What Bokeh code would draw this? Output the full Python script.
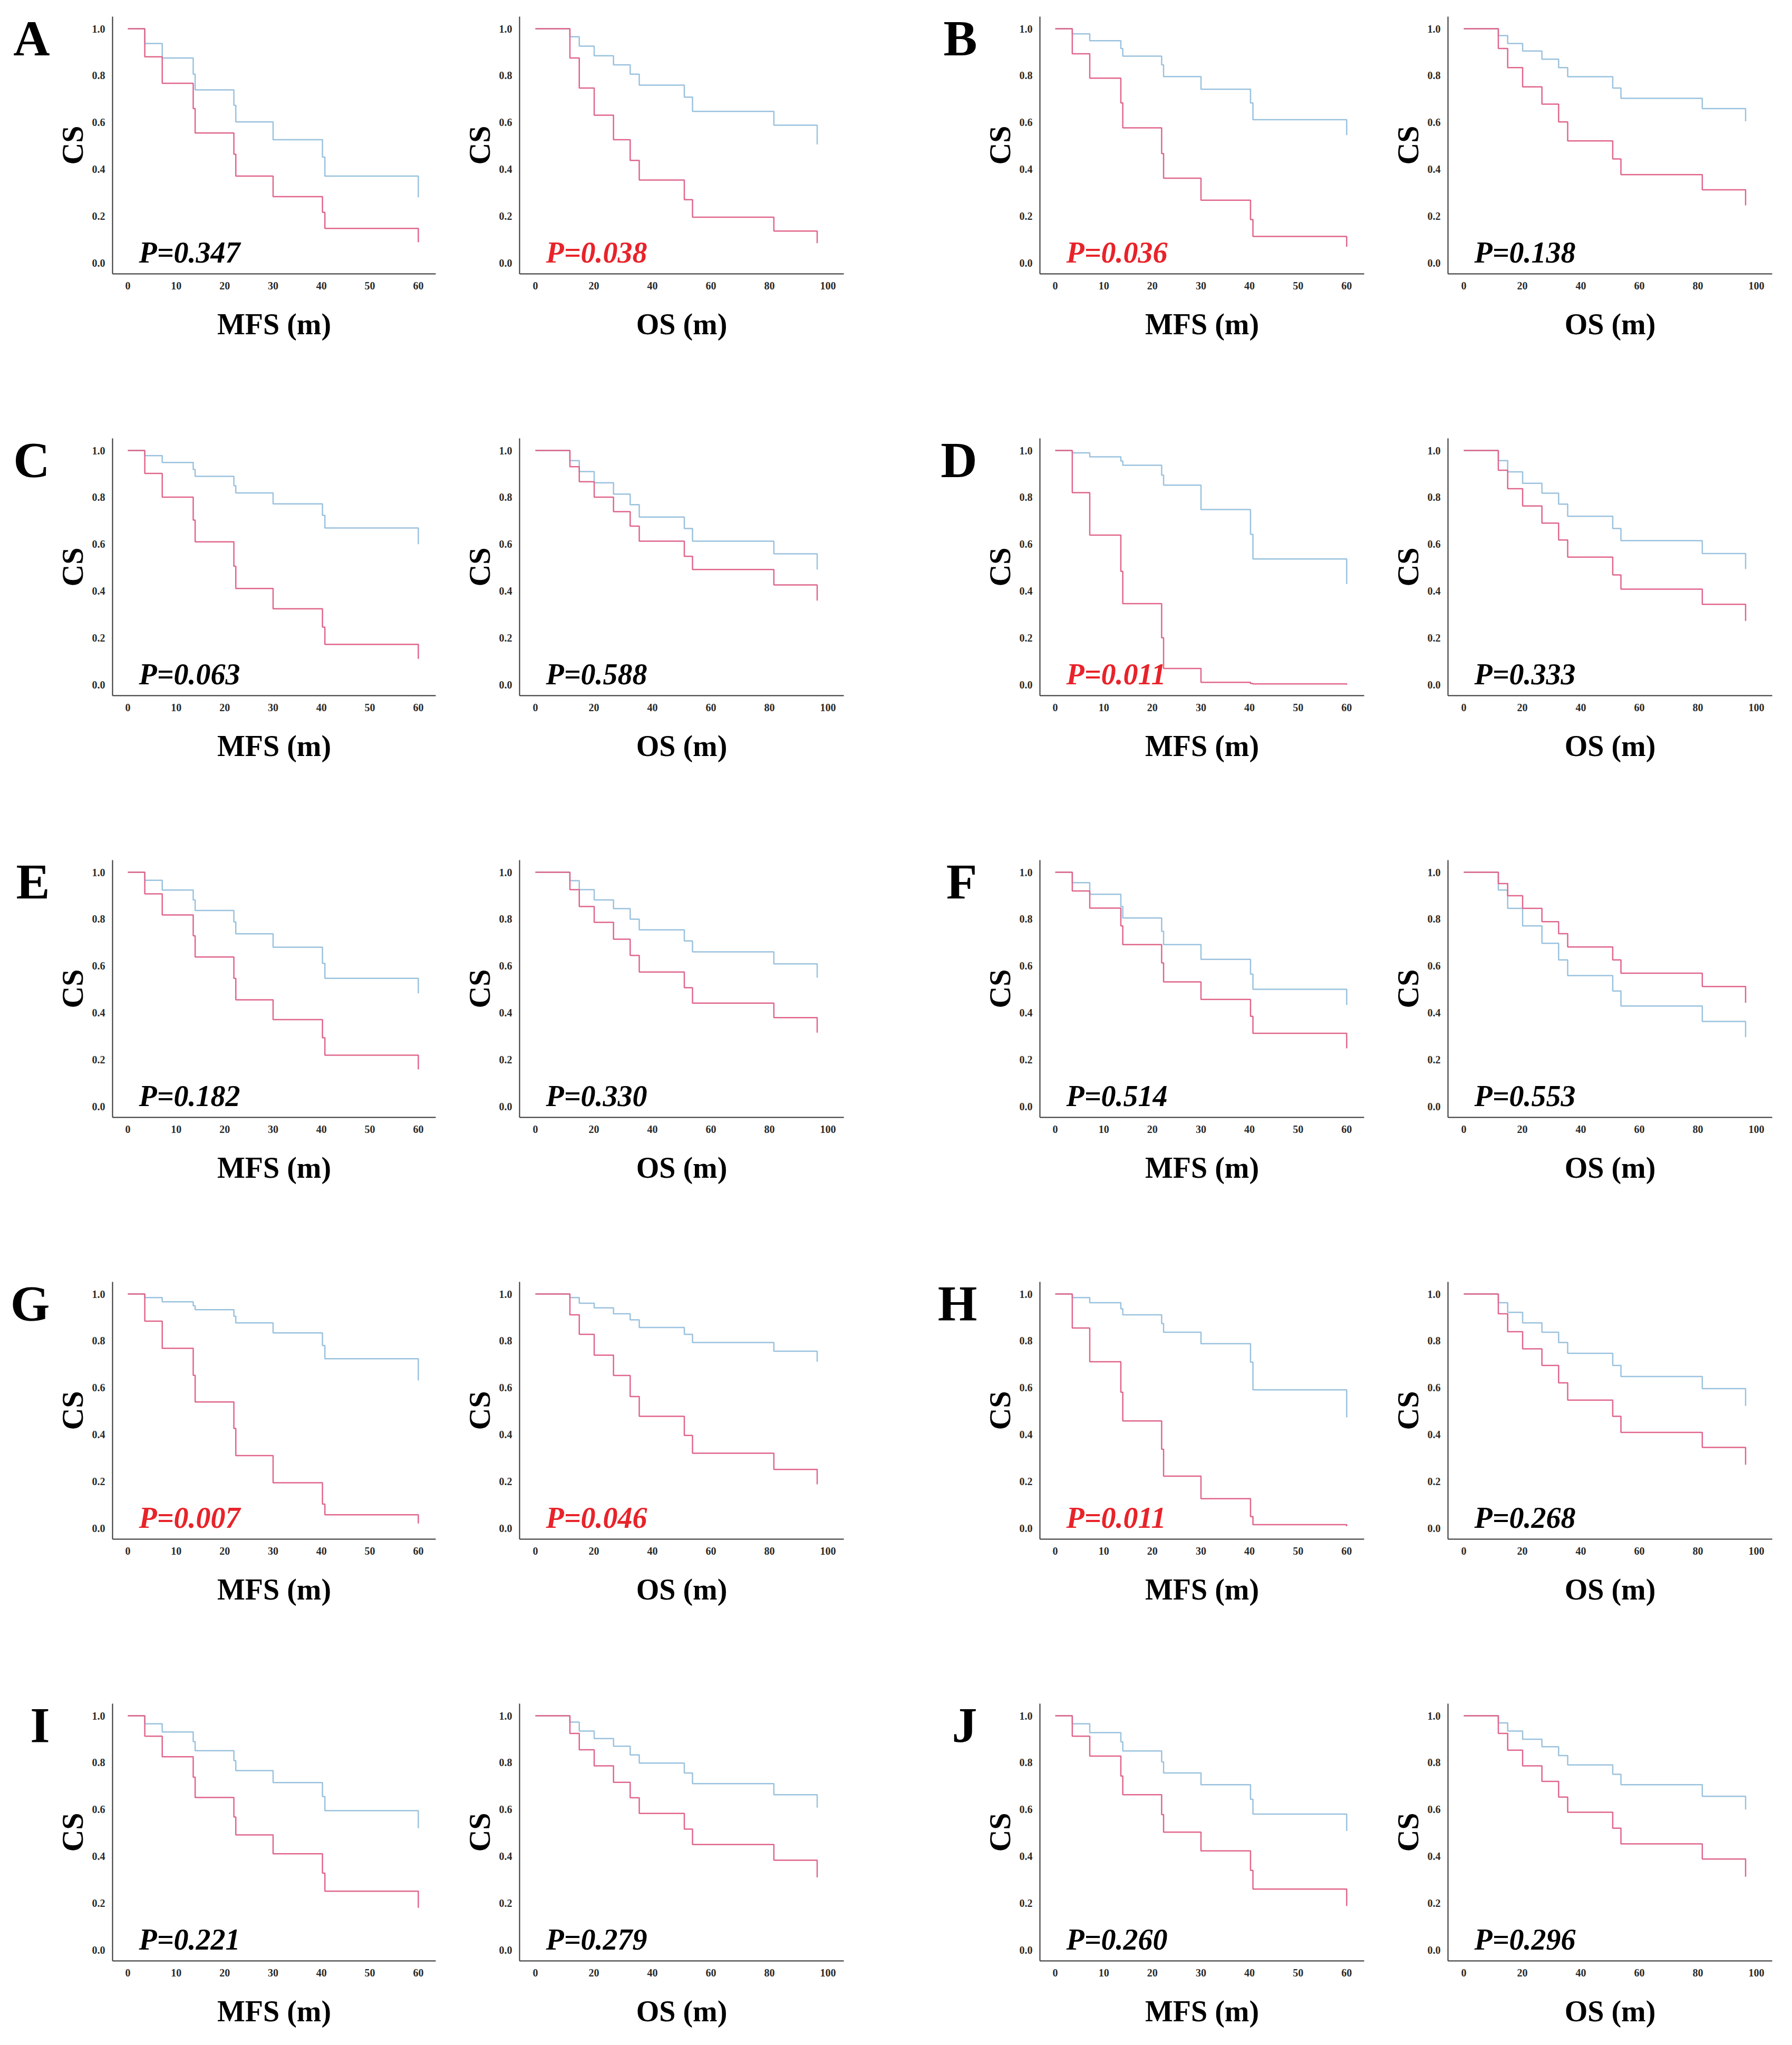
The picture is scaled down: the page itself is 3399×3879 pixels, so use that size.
from bokeh.plotting import figure
from bokeh.layouts import column, row
from bokeh.models import (Label, FixedTicker, NumeralTickFormatter, Range1d,
                          LinearAxis, CustomJSTickFormatter)
from bokeh.embed import file_html
from bokeh.resources import INLINE

# ---------------- data ----------------
LETTERS = ["A", "B", "C", "D", "E", "F", "G", "H", "I", "J"]
P_MFS = ["0.347", "0.036", "0.063", "0.011", "0.182", "0.514", "0.007", "0.011", "0.221", "0.260"]
P_OS = ["0.038", "0.138", "0.588", "0.333", "0.330", "0.553", "0.046", "0.268", "0.279", "0.296"]

MFS_T = [0, 3.5, 7.1, 13.5, 13.9, 21.9, 22.3, 30.0, 40.2, 40.7, 60.0]
OS_T = [0, 11.8, 15.0, 20.1, 26.7, 32.4, 35.5, 50.9, 53.7, 81.5, 96.3]

MFS_TICKS = [0, 10, 20, 30, 40, 50, 60]
OS_TICKS = [0, 20, 40, 60, 80, 100]
CS_TICKS = [0.0, 0.2, 0.4, 0.6, 0.8, 1.0]

A_MFS_BLUE = [1.0, 0.937, 0.875, 0.806, 0.739, 0.673, 0.602, 0.526, 0.452, 0.371, 0.280]
A_MFS_RED = [1.0, 0.880, 0.767, 0.659, 0.555, 0.464, 0.371, 0.283, 0.216, 0.147, 0.088]
B_MFS_BLUE = [1.0, 0.978, 0.949, 0.916, 0.883, 0.846, 0.796, 0.742, 0.683, 0.612, 0.546]
B_MFS_RED = [1.0, 0.893, 0.789, 0.683, 0.577, 0.467, 0.362, 0.268, 0.185, 0.113, 0.069]
C_MFS_BLUE = [1.0, 0.978, 0.949, 0.919, 0.890, 0.850, 0.819, 0.772, 0.723, 0.669, 0.600]
C_MFS_RED = [1.0, 0.902, 0.801, 0.703, 0.610, 0.506, 0.411, 0.324, 0.246, 0.172, 0.110]
D_MFS_BLUE = [1.0, 0.990, 0.973, 0.955, 0.937, 0.895, 0.852, 0.748, 0.642, 0.537, 0.430]
D_MFS_RED = [1.0, 0.820, 0.639, 0.484, 0.346, 0.200, 0.069, 0.010, 0.005, 0.003, 0.000]
E_MFS_BLUE = [1.0, 0.966, 0.924, 0.882, 0.837, 0.788, 0.737, 0.680, 0.611, 0.547, 0.483]
E_MFS_RED = [1.0, 0.908, 0.818, 0.729, 0.638, 0.547, 0.455, 0.371, 0.293, 0.219, 0.158]
F_MFS_BLUE = [1.0, 0.956, 0.906, 0.854, 0.805, 0.748, 0.691, 0.628, 0.565, 0.500, 0.433]
F_MFS_RED = [1.0, 0.920, 0.847, 0.771, 0.691, 0.613, 0.532, 0.457, 0.385, 0.312, 0.248]
G_MFS_BLUE = [1.0, 0.985, 0.967, 0.950, 0.933, 0.905, 0.877, 0.834, 0.780, 0.724, 0.631]
G_MFS_RED = [1.0, 0.884, 0.768, 0.653, 0.539, 0.426, 0.310, 0.194, 0.103, 0.057, 0.020]
H_MFS_BLUE = [1.0, 0.985, 0.963, 0.937, 0.911, 0.874, 0.837, 0.788, 0.709, 0.591, 0.473]
H_MFS_RED = [1.0, 0.855, 0.711, 0.581, 0.458, 0.337, 0.222, 0.126, 0.049, 0.015, 0.008]
I_MFS_BLUE = [1.0, 0.966, 0.931, 0.890, 0.851, 0.808, 0.766, 0.715, 0.655, 0.595, 0.520]
I_MFS_RED = [1.0, 0.913, 0.825, 0.738, 0.651, 0.568, 0.491, 0.411, 0.328, 0.251, 0.180]
J_MFS_BLUE = [1.0, 0.966, 0.928, 0.889, 0.850, 0.803, 0.756, 0.706, 0.643, 0.580, 0.508]
J_MFS_RED = [1.0, 0.913, 0.828, 0.743, 0.663, 0.578, 0.503, 0.423, 0.340, 0.260, 0.188]

A_OS_BLUE = [1.0, 0.966, 0.926, 0.885, 0.846, 0.806, 0.759, 0.708, 0.647, 0.588, 0.506]
A_OS_RED = [1.0, 0.875, 0.747, 0.631, 0.526, 0.438, 0.354, 0.270, 0.195, 0.136, 0.084]
B_OS_BLUE = [1.0, 0.971, 0.937, 0.905, 0.870, 0.834, 0.795, 0.747, 0.703, 0.659, 0.605]
B_OS_RED = [1.0, 0.916, 0.834, 0.752, 0.678, 0.602, 0.521, 0.444, 0.377, 0.312, 0.246]
C_OS_BLUE = [1.0, 0.957, 0.910, 0.862, 0.814, 0.769, 0.716, 0.667, 0.613, 0.559, 0.492]
C_OS_RED = [1.0, 0.931, 0.867, 0.801, 0.739, 0.677, 0.613, 0.548, 0.492, 0.426, 0.359]
D_OS_BLUE = [1.0, 0.957, 0.909, 0.860, 0.818, 0.771, 0.719, 0.667, 0.615, 0.560, 0.494]
D_OS_RED = [1.0, 0.916, 0.837, 0.763, 0.690, 0.618, 0.545, 0.469, 0.408, 0.343, 0.272]
E_OS_BLUE = [1.0, 0.964, 0.926, 0.882, 0.845, 0.800, 0.754, 0.707, 0.660, 0.609, 0.550]
E_OS_RED = [1.0, 0.926, 0.854, 0.786, 0.714, 0.645, 0.574, 0.507, 0.441, 0.379, 0.315]
F_OS_BLUE = [1.0, 0.924, 0.846, 0.771, 0.697, 0.626, 0.559, 0.493, 0.429, 0.363, 0.296]
F_OS_RED = [1.0, 0.952, 0.900, 0.846, 0.789, 0.738, 0.681, 0.626, 0.569, 0.512, 0.443]
G_OS_BLUE = [1.0, 0.985, 0.961, 0.941, 0.916, 0.890, 0.857, 0.828, 0.793, 0.756, 0.711]
G_OS_RED = [1.0, 0.911, 0.828, 0.739, 0.652, 0.562, 0.478, 0.396, 0.320, 0.251, 0.187]
H_OS_BLUE = [1.0, 0.963, 0.922, 0.877, 0.837, 0.793, 0.747, 0.695, 0.648, 0.596, 0.522]
H_OS_RED = [1.0, 0.916, 0.839, 0.766, 0.695, 0.621, 0.547, 0.478, 0.409, 0.345, 0.271]
I_OS_BLUE = [1.0, 0.973, 0.935, 0.903, 0.870, 0.833, 0.798, 0.756, 0.710, 0.663, 0.608]
I_OS_RED = [1.0, 0.925, 0.855, 0.786, 0.716, 0.650, 0.583, 0.516, 0.450, 0.383, 0.310]
J_OS_BLUE = [1.0, 0.970, 0.935, 0.900, 0.868, 0.830, 0.790, 0.750, 0.706, 0.656, 0.600]
J_OS_RED = [1.0, 0.925, 0.853, 0.786, 0.720, 0.653, 0.588, 0.520, 0.453, 0.388, 0.313]

MFS_BLUE = [A_MFS_BLUE, B_MFS_BLUE, C_MFS_BLUE, D_MFS_BLUE, E_MFS_BLUE,
            F_MFS_BLUE, G_MFS_BLUE, H_MFS_BLUE, I_MFS_BLUE, J_MFS_BLUE]
MFS_RED = [A_MFS_RED, B_MFS_RED, C_MFS_RED, D_MFS_RED, E_MFS_RED,
           F_MFS_RED, G_MFS_RED, H_MFS_RED, I_MFS_RED, J_MFS_RED]
OS_BLUE = [A_OS_BLUE, B_OS_BLUE, C_OS_BLUE, D_OS_BLUE, E_OS_BLUE,
           F_OS_BLUE, G_OS_BLUE, H_OS_BLUE, I_OS_BLUE, J_OS_BLUE]
OS_RED = [A_OS_RED, B_OS_RED, C_OS_RED, D_OS_RED, E_OS_RED,
          F_OS_RED, G_OS_RED, H_OS_RED, I_OS_RED, J_OS_RED]

# ---------------- style ----------------
SERIF = "Liberation Serif"
BLUE = "#9ac2de"
RED = "#e0668a"
SIG_RED = "#e8232a"
AXIS_COLOR = "#333333"

COL_W = [852, 840, 920, 771]
COL_L = [213, 133, 280, 134]
COL_R = [26, 92, 25, 22]
ROW_H = [800, 800, 800, 800, 660]
ROW_B = [281, 281, 281, 281, 141]
TOP = 31
LETTER_Y = 0.96


def make_panel(kind, times, blue, red, pval, w, l, r, h, b, letter=None):
    if kind == "MFS":
        xr = Range1d(-3.16, 63.6)
        ticks = MFS_TICKS
        xlabel = "MFS (m)"
    else:
        xr = Range1d(-5.4, 105.4)
        ticks = OS_TICKS
        xlabel = "OS (m)"
    p = figure(width=w, height=h, x_range=xr, y_range=Range1d(-0.047, 1.052),
               output_backend="svg", toolbar_location=None,
               min_border_left=l, min_border_right=r,
               min_border_top=TOP, min_border_bottom=b,
               background_fill_color="white", border_fill_color="white")
    p.outline_line_color = None
    p.grid.visible = False

    p.step(times, blue, mode="after", line_color=BLUE, line_width=2.5)
    p.step(times, red, mode="after", line_color=RED, line_width=2.5)

    for ax in (p.xaxis[0], p.yaxis[0]):
        ax.axis_line_color = AXIS_COLOR
        ax.axis_line_width = 2
        ax.major_tick_line_color = None
        ax.minor_tick_line_color = None
        ax.major_label_text_font = SERIF
        ax.major_label_text_font_size = "20px"
        ax.major_label_text_font_style = "bold"
        ax.major_label_text_color = "#2a2a2a"
        ax.axis_label_text_font = SERIF
        ax.axis_label_text_font_style = "bold"
        ax.axis_label_text_color = "black"

    p.xaxis[0].ticker = FixedTicker(ticks=ticks)
    p.xaxis[0].major_label_standoff = 9
    p.xaxis[0].axis_label = xlabel
    p.xaxis[0].axis_label_text_font_size = "56px"
    p.xaxis[0].axis_label_standoff = 32

    p.yaxis[0].ticker = FixedTicker(ticks=CS_TICKS)
    p.yaxis[0].formatter = NumeralTickFormatter(format="0.0")
    p.yaxis[0].major_label_standoff = 8
    p.yaxis[0].axis_label = "CS"
    p.yaxis[0].axis_label_text_font_size = "58px"
    p.yaxis[0].axis_label_standoff = 2

    sig = float(pval) < 0.05
    p.add_layout(Label(x=50, y=41, x_units="screen", y_units="screen",
                       text="P=" + pval, text_font=SERIF, text_font_size="56px",
                       text_font_style="bold italic",
                       text_color=SIG_RED if sig else "black",
                       text_baseline="alphabetic", text_align="left"))
    if letter is not None:
        lax = LinearAxis(ticker=FixedTicker(ticks=[LETTER_Y]),
                         formatter=CustomJSTickFormatter(code="return '%s';" % letter))
        lax.axis_line_color = None
        lax.major_tick_line_color = None
        lax.minor_tick_line_color = None
        lax.major_label_standoff = 1
        lax.major_label_orientation = "horizontal"
        lax.major_label_text_font = SERIF
        lax.major_label_text_font_size = "96px"
        lax.major_label_text_font_style = "bold"
        lax.major_label_text_color = "black"
        p.add_layout(lax, "left")
    return p


rows = []
for r in range(5):
    figs = []
    for half in range(2):
        i = 2 * r + half
        c0 = 2 * half
        figs.append(make_panel("MFS", MFS_T, MFS_BLUE[i], MFS_RED[i], P_MFS[i],
                               COL_W[c0], COL_L[c0], COL_R[c0], ROW_H[r], ROW_B[r],
                               letter=LETTERS[i]))
        figs.append(make_panel("OS", OS_T, OS_BLUE[i], OS_RED[i], P_OS[i],
                               COL_W[c0 + 1], COL_L[c0 + 1], COL_R[c0 + 1], ROW_H[r], ROW_B[r]))
    rows.append(row(*figs))

layout = column(*rows)
open("out.html", "w").write(file_html(layout, INLINE))
